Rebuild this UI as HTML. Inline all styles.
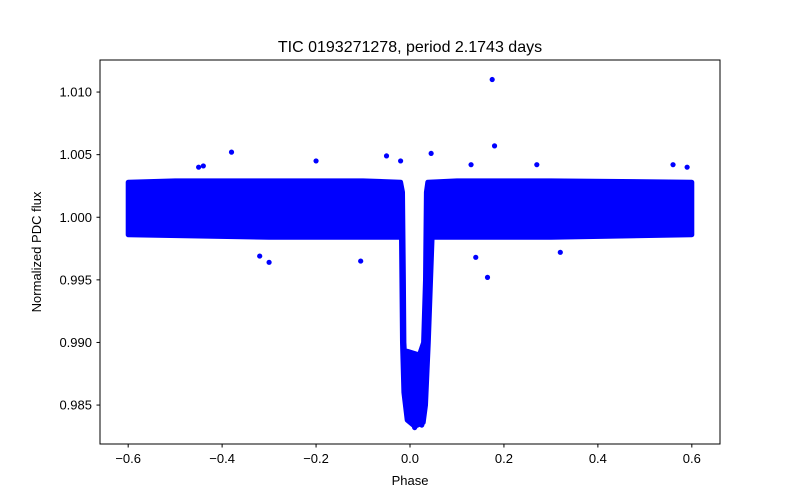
<!DOCTYPE html>
<html><head><meta charset="utf-8"><style>
body{margin:0;background:#fff}
svg{display:block;font-family:"Liberation Sans","DejaVu Sans",sans-serif}
</style></head><body>
<svg id="chart" width="800" height="500">
<rect width="800" height="500" fill="#fff"/>
<g id="marks"></g>
<rect x="100" y="60" width="620" height="384" fill="none" stroke="#000" stroke-width="1"/>
<g id="axes"></g>
<text x="410" y="52" font-size="16" text-anchor="middle">TIC 0193271278, period 2.1743 days</text>
<text x="410" y="485" font-size="13" text-anchor="middle">Phase</text>
<text x="41" y="252" font-size="13" text-anchor="middle" transform="rotate(-90 41 252)">Normalized PDC flux</text>
</svg>
<script>
// Dense band envelope (phase, flux)
const bandPhase = [-0.6,-0.5,-0.3,-0.1,-0.02,-0.016,-0.014,-0.013,-0.012,-0.006,0.02,0.029,0.033,0.035,0.038,0.1,0.3,0.6,0.6,0.3,0.047,0.039,0.033,0.028,0.01,-0.006,-0.013,-0.016,-0.018,-0.1,-0.3,-0.6];
const bandFlux  = [1.0028,1.0029,1.0029,1.0029,1.0028,1.0020,0.9950,0.9900,0.9892,0.9893,0.9890,0.9900,0.9950,1.0020,1.0028,1.0029,1.0029,1.0028,0.9986,0.9984,0.9984,0.9900,0.9850,0.9836,0.9833,0.9838,0.9860,0.9900,0.9984,0.9984,0.9984,0.9986];
// Outlier points
const outPhase = [0.175,0.18,-0.38,0.045,-0.02,-0.05,-0.2,0.13,-0.45,-0.44,0.56,0.59,0.27,-0.105,-0.3,-0.32,0.165,0.14,0.32,0.01,0.025];
const outFlux  = [1.0110,1.0057,1.0052,1.0051,1.0045,1.0049,1.0045,1.0042,1.0040,1.0041,1.0042,1.0040,1.0042,0.9965,0.9964,0.9969,0.9952,0.9968,0.9972,0.9832,0.9834];
const xTicks = [-0.6,-0.4,-0.2,0.0,0.2,0.4,0.6];
const xTickLabels = ["\u22120.6","\u22120.4","\u22120.2","0.0","0.2","0.4","0.6"];
const yTicks = [0.985,0.990,0.995,1.000,1.005,1.010];
const yTickLabels = ["0.985","0.990","0.995","1.000","1.005","1.010"];

const X0=100,X1=720,Y0=444,Y1=60, xmin=-0.66,xmax=0.66, ymin=0.98189,ymax=1.01256;
const sx=v=>X0+(v-xmin)/(xmax-xmin)*(X1-X0);
const sy=v=>Y0-(v-ymin)/(ymax-ymin)*(Y0-Y1);
const NS="http://www.w3.org/2000/svg";
const marks=document.getElementById('marks');
const band=document.createElementNS(NS,'polygon');
band.setAttribute('points',bandPhase.map((p,i)=>sx(p).toFixed(1)+','+sy(bandFlux[i]).toFixed(1)).join(' '));
band.setAttribute('fill','#0000ff');band.setAttribute('stroke','#0000ff');
band.setAttribute('stroke-width','5');band.setAttribute('stroke-linejoin','round');


marks.appendChild(band);
outPhase.forEach((p,i)=>{
  const c=document.createElementNS(NS,'circle');
  c.setAttribute('cx',sx(p));c.setAttribute('cy',sy(outFlux[i]));c.setAttribute('r',2.6);c.setAttribute('fill','#0000ff');
  
  
  marks.appendChild(c);
});
const axes=document.getElementById('axes');
xTicks.forEach((t,i)=>{
  const x=sx(t);
  const l=document.createElementNS(NS,'line');
  l.setAttribute('x1',x);l.setAttribute('x2',x);l.setAttribute('y1',444);l.setAttribute('y2',447.5);l.setAttribute('stroke','#000');
  
  
  axes.appendChild(l);
  const tx=document.createElementNS(NS,'text');
  tx.setAttribute('x',x);tx.setAttribute('y',463);tx.setAttribute('font-size','13');tx.setAttribute('text-anchor','middle');
  tx.textContent=xTickLabels[i];
  
  
  axes.appendChild(tx);
});
yTicks.forEach((t,i)=>{
  const y=sy(t);
  const l=document.createElementNS(NS,'line');
  l.setAttribute('x1',96.5);l.setAttribute('x2',100);l.setAttribute('y1',y);l.setAttribute('y2',y);l.setAttribute('stroke','#000');
  
  
  axes.appendChild(l);
  const tx=document.createElementNS(NS,'text');
  tx.setAttribute('x',92);tx.setAttribute('y',y+4.5);tx.setAttribute('font-size','13');tx.setAttribute('text-anchor','end');
  tx.textContent=yTickLabels[i];
  
  
  axes.appendChild(tx);
});
</script>
</body></html>
